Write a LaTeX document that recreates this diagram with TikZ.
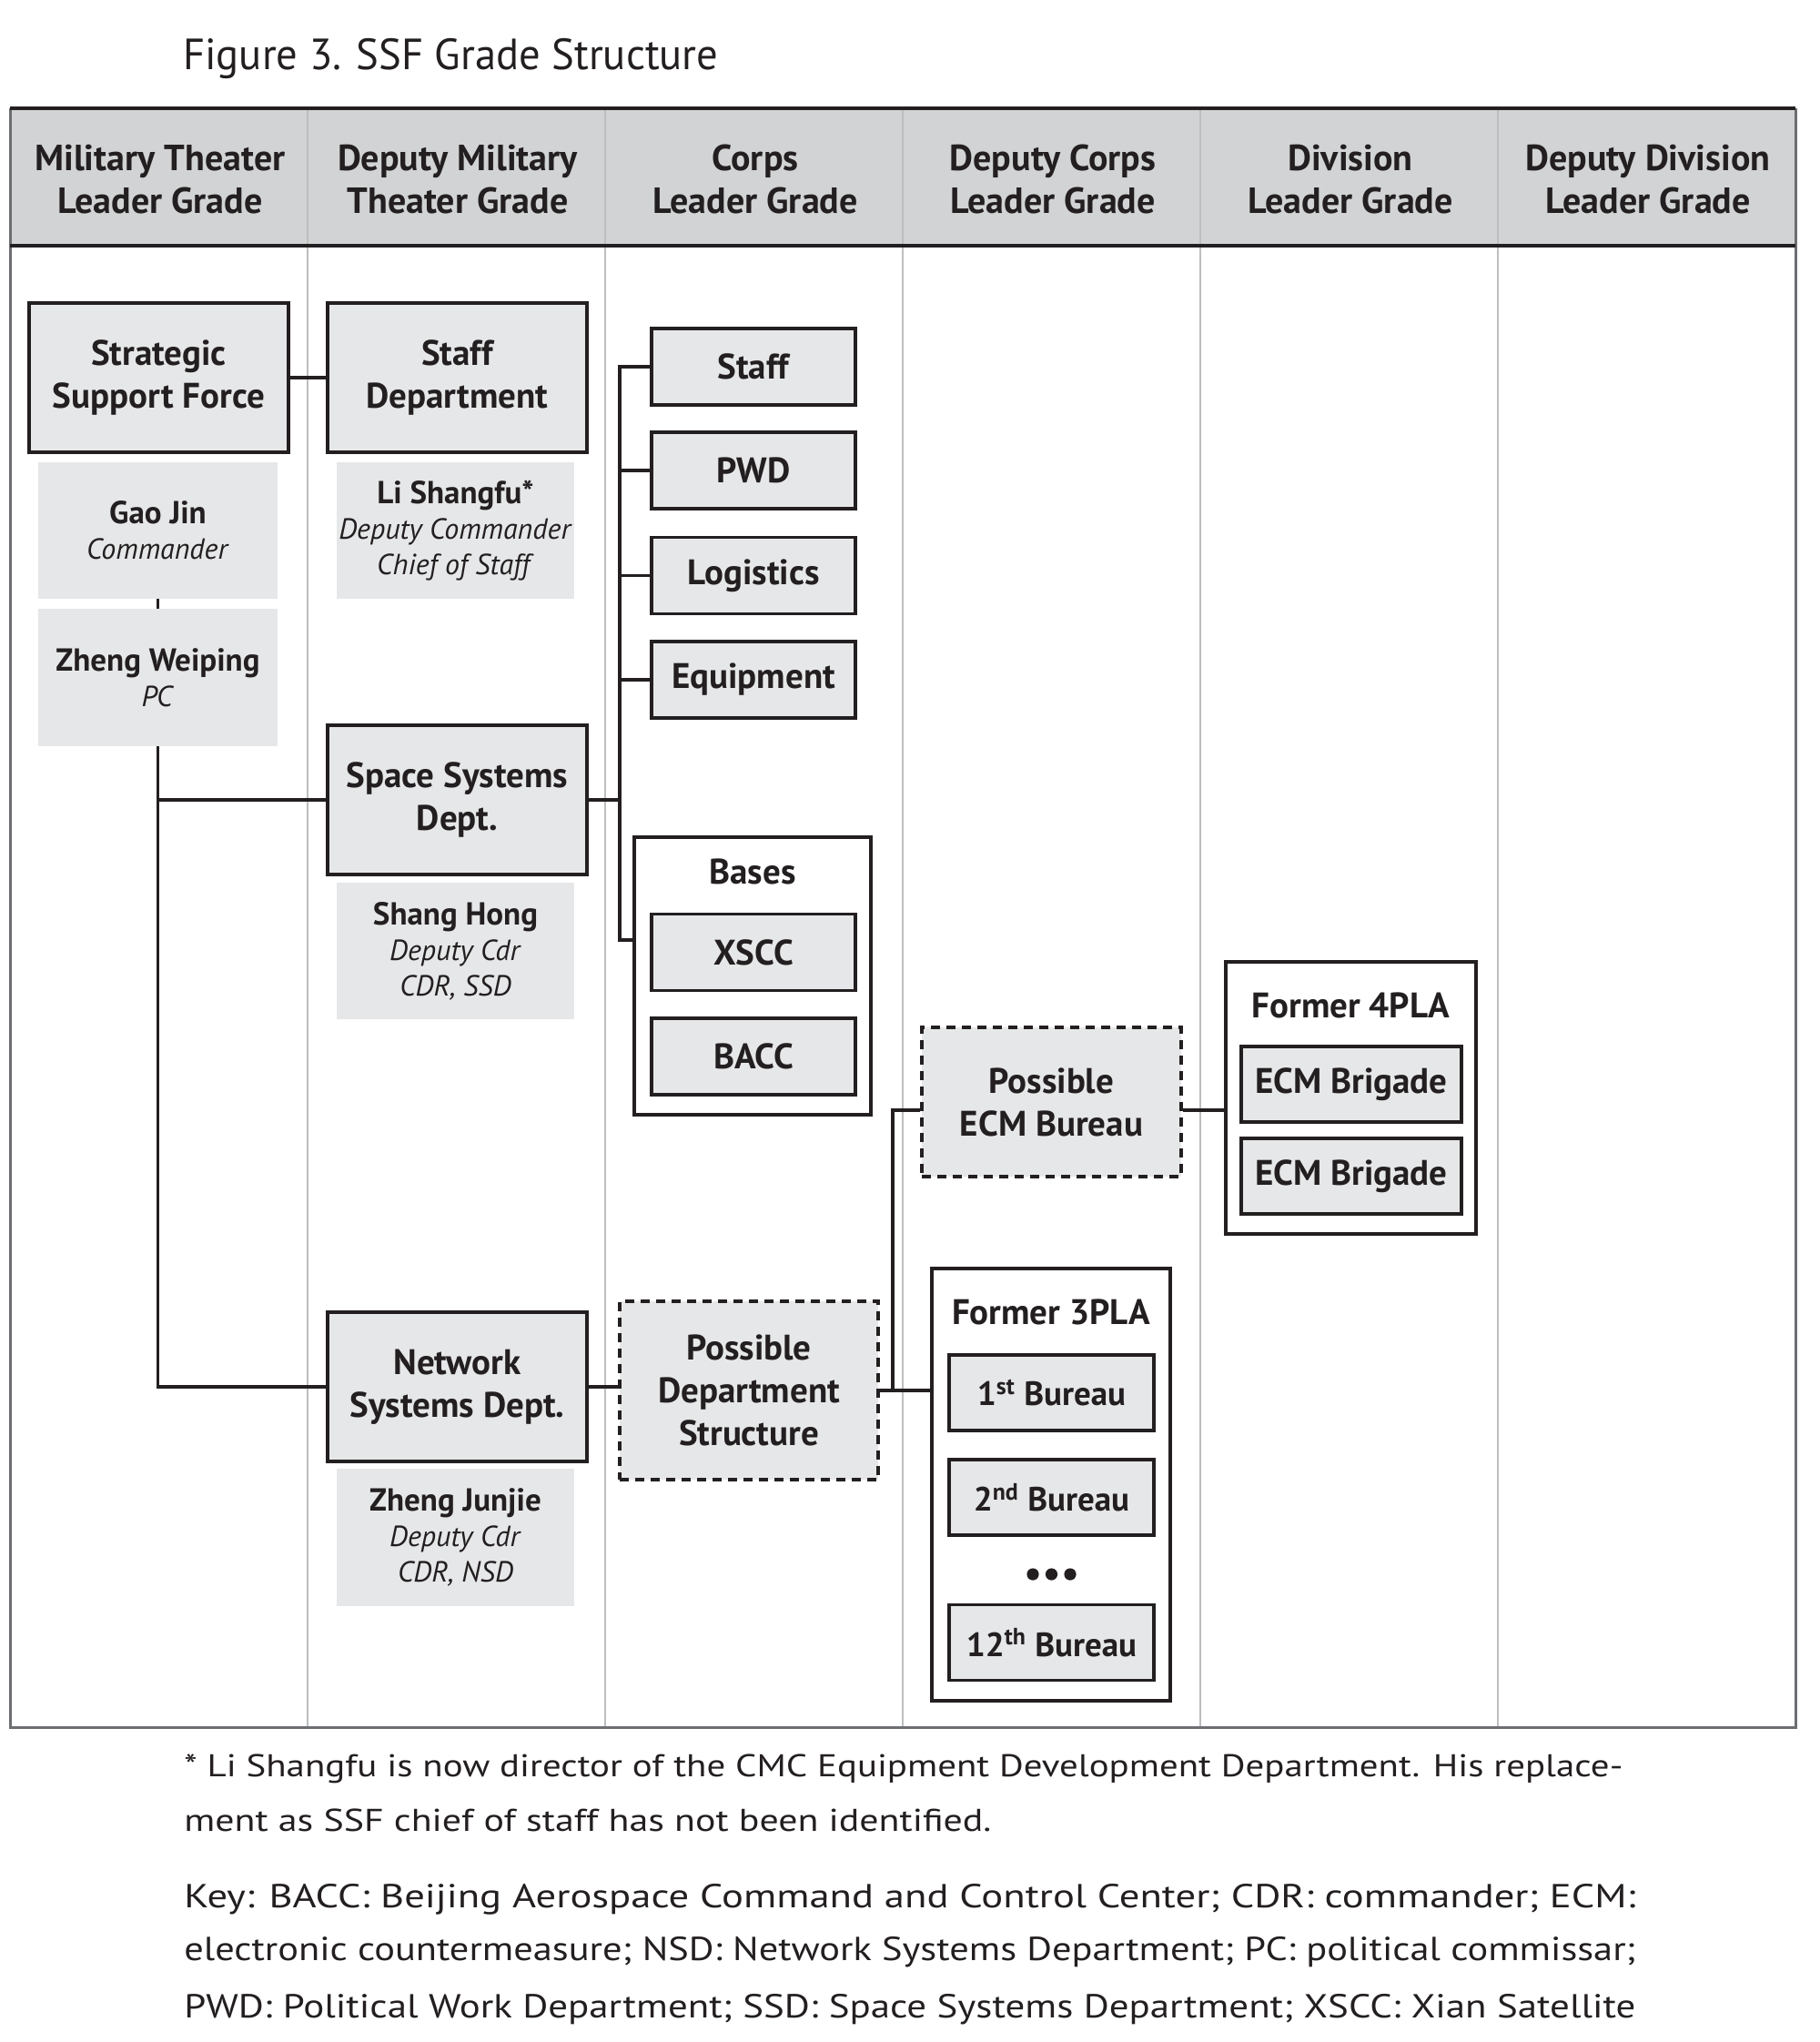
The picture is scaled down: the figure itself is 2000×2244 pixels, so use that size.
\documentclass[tikz,border=0pt]{standalone}
\usepackage{fontspec}
\setmainfont{PT Sans}
\usepackage{graphicx}
\usetikzlibrary{calc}
\definecolor{hdrgrey}{HTML}{D1D3D4}
\definecolor{boxgrey}{HTML}{E6E7E8}
\definecolor{colline}{HTML}{BCBEC0}
\definecolor{darkline}{HTML}{231F20}
\definecolor{framegrey}{HTML}{6D6E71}
\newcommand{\pnmfont}{\bfseries\fontsize{17.5}{19.5}\selectfont}
\begin{document}
\begin{tikzpicture}[x=0.5pt,y=-0.5pt,
  hdrtext/.style={font=\bfseries\fontsize{20}{23.5}\selectfont, align=center, text=darkline, inner sep=0pt},
  unitbox/.style={draw=darkline, line width=1.6pt, fill=boxgrey, align=center, inner sep=0pt,
     font=\bfseries\fontsize{19.5}{23.5}\selectfont, text=darkline},
  bigbox/.style={unitbox, minimum width=142.5pt, minimum height=82pt},
  smallbox/.style={unitbox, minimum width=112pt, minimum height=42pt},
  dashbox/.style={unitbox, dash pattern=on 5pt off 3.5pt},
  burbox/.style={unitbox, minimum width=112.5pt, minimum height=41.5pt, font=\bfseries\fontsize{18.5}{22}\selectfont},
  person/.style={fill=boxgrey, align=center, inner sep=0pt, text=darkline,
     font=\fontsize{16}{19.5}\selectfont},
  holder/.style={draw=darkline, line width=1.6pt, fill=white, inner sep=0pt},
  holdertitle/.style={font=\bfseries\fontsize{19.5}{22}\selectfont, text=darkline, inner sep=0pt, anchor=base},
  conn/.style={draw=darkline, line width=1.6pt},
  notetext/.style={anchor=base west, inner sep=0pt, text=darkline}
]
% canvas
\path[fill=white] (0,0) rectangle (2000,2244);
\useasboundingbox (0,0) rectangle (2000,2244);

% title
\node[notetext] (title) at (201,76) {\resizebox{294pt}{\height}{\fontsize{24}{28}\selectfont Figure 3. SSF Grade Structure}};

% table frame and header
\fill[hdrgrey] (11,119) rectangle (1973,270);
\foreach \cx in {338,665,992,1319,1646}
  \draw[colline, line width=1.2pt] (\cx,119) -- (\cx,1898);
\draw[framegrey, line width=1.5pt] (11,119) -- (11,1898) -- (1973,1898) -- (1973,119);
\draw[darkline, line width=2pt] (11,119) -- (1973,119);
\draw[darkline, line width=2pt] (11,270) -- (1973,270);

\node[hdrtext] (h1) at (176,197) {Military Theater\\Leader Grade};
\node[hdrtext] (h2) at (503,197) {Deputy Military\\Theater Grade};
\node[hdrtext] (h3) at (830,197) {Corps\\Leader Grade};
\node[hdrtext] (h4) at (1157,197) {Deputy Corps\\Leader Grade};
\node[hdrtext] (h5) at (1484,197) {Division\\Leader Grade};
\node[hdrtext] (h6) at (1811,197) {Deputy Division\\Leader Grade};

% containers
\node[holder, minimum width=130pt, minimum height=152.5pt] (bases) at (827,1072.5) {};
\node[holdertitle] (basestitle) at (827,971) {Bases};
\node[holder, minimum width=137.5pt, minimum height=149.5pt] (pla4) at (1484.5,1206.5) {};
\node[holdertitle] (pla4title) at (1484.5,1118) {Former 4PLA};
\node[holder, minimum width=131pt, minimum height=237.5pt] (pla3) at (1155,1631.5) {};
\node[holdertitle] (pla3title) at (1155,1455) {Former 3PLA};

% main boxes
\node[bigbox] (ssf) at (174.5,415) {Strategic\\Support Force};
\node[bigbox] (staffdept) at (502.5,415) {Staff\\Department};
\node[bigbox] (ssd) at (502.5,879) {Space Systems\\Dept.};
\node[bigbox] (nsd) at (502.5,1524) {Network\\Systems Dept.};

% persons
\node[person, minimum width=131.5pt, minimum height=75pt] (gao) at (173.5,583) {{\pnmfont Gao Jin}\\\textit{Commander}};
\node[person, minimum width=131.5pt, minimum height=75.5pt] (zheng) at (173.5,744.5) {{\pnmfont Zheng Weiping}\\\textit{PC}};
\node[person, minimum width=130.5pt, minimum height=75pt] (li) at (500.5,583) {{\pnmfont Li Shangfu*}\\\textit{Deputy Commander}\\\textit{Chief of Staff}};
\node[person, minimum width=130.5pt, minimum height=75pt] (shang) at (500.5,1045) {{\pnmfont Shang Hong}\\\textit{Deputy Cdr}\\\textit{CDR, SSD}};
\node[person, minimum width=130.5pt, minimum height=75.5pt] (junjie) at (500.5,1689.5) {{\pnmfont Zheng Junjie}\\\textit{Deputy Cdr}\\\textit{CDR, NSD}};

% corps column
\node[smallbox] (cstaff) at (828,403) {Staff};
\node[smallbox] (pwd) at (828,517) {PWD};
\node[smallbox] (logi) at (828,632.5) {Logistics};
\node[smallbox] (equip) at (828,747) {Equipment};
\node[smallbox] (xscc) at (828,1046.5) {XSCC};
\node[smallbox] (bacc) at (828,1161) {BACC};
\node[dashbox, minimum width=142pt, minimum height=98pt] (pds) at (823,1528) {Possible\\Department\\Structure};

% deputy corps column
\node[dashbox, minimum width=142.5pt, minimum height=82pt] (ecmb) at (1155.5,1211) {Possible\\ECM Bureau};
\node[burbox] (bur1) at (1155.5,1530.5) {1\textsuperscript{st} Bureau};
\node[burbox] (bur2) at (1155.5,1645.5) {2\textsuperscript{nd} Bureau};
\node[burbox] (bur12) at (1155.5,1805) {12\textsuperscript{th} Bureau};
\foreach \dx in {1135,1155.5,1176}
  \fill[darkline] (\dx,1730) circle[radius=3.3pt];

% division column
\node[unitbox, minimum width=121pt, minimum height=41.5pt] (brig1) at (1485,1191.5) {ECM Brigade};
\node[unitbox, minimum width=121pt, minimum height=41.5pt] (brig2) at (1485,1292.5) {ECM Brigade};

% connectors
\coordinate (bus) at (681,1033);
\coordinate (ecmlvl) at (981,1220);
\draw[conn] (ssf.east) -- (staffdept.west);
\draw[conn] (gao.south) -- (zheng.north);
\draw[conn] (zheng.south) |- (ssd.west);
\draw[conn] (zheng.south) |- (nsd.west);
\draw[conn] (cstaff.west) -| (bus) -- (bus -| bases.west);
\draw[conn] (pwd.west) -- (pwd.west -| bus);
\draw[conn] (logi.west) -- (logi.west -| bus);
\draw[conn] (equip.west) -- (equip.west -| bus);
\draw[conn] (ssd.east) -- (ssd.east -| bus);
\draw[conn] (nsd.east) -- (nsd.east -| pds.west);
\draw[conn] (pds.east) -- (pds.east -| pla3.west);
\draw[conn] (ecmb.west |- ecmlvl) -- (ecmlvl) -- (ecmlvl |- pds.east);
\draw[conn] (ecmb.east |- ecmlvl) -- (pla4.west |- ecmlvl);

% notes
\node[notetext] (note1) at (202,1952) {\resizebox{790.5pt}{\height}{\fontsize{17.3}{19}\selectfont * Li Shangfu is now director of the CMC Equipment Development Department. His replace-}};
\node[notetext] (note2) at (202,2012) {\resizebox{443.5pt}{\height}{\fontsize{17.3}{19}\selectfont ment as SSF chief of staff has not been identified.}};
\node[notetext] (key1) at (202,2096) {\resizebox{797.5pt}{\height}{\fontsize{18.3}{21}\selectfont Key: BACC: Beijing Aerospace Command and Control Center; CDR: commander; ECM:}};
\node[notetext] (key2) at (202,2154) {\resizebox{797.5pt}{\height}{\fontsize{18.3}{21}\selectfont electronic countermeasure; NSD: Network Systems Department; PC: political commissar;}};
\node[notetext] (key3) at (202,2217) {\resizebox{797.5pt}{\height}{\fontsize{18.3}{21}\selectfont PWD: Political Work Department; SSD: Space Systems Department; XSCC: Xian Satellite}};
\end{tikzpicture}
\end{document}
